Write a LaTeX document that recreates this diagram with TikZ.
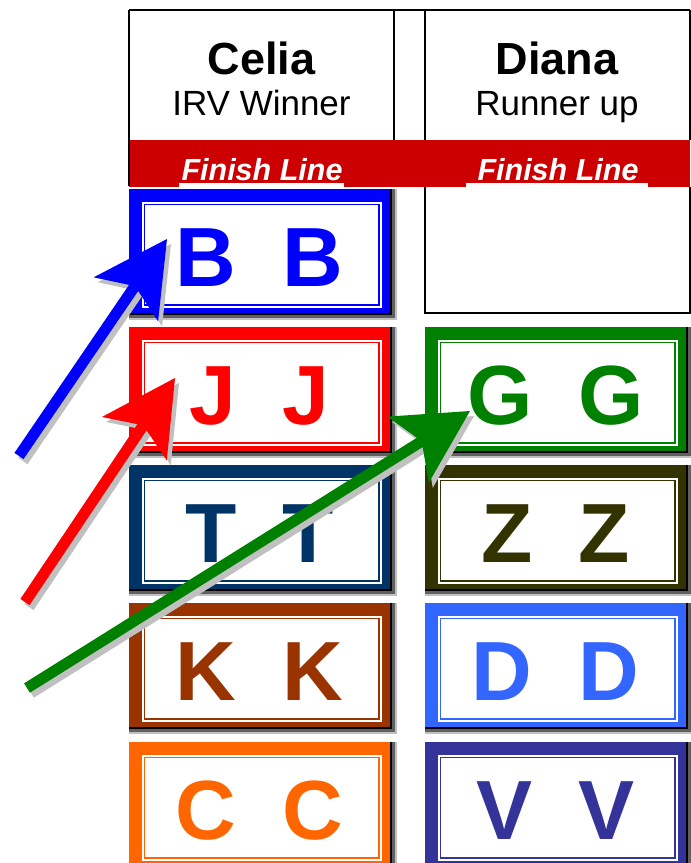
\documentclass[tikz,border=0pt]{standalone}
\usepackage{fontspec}
\setmainfont{Liberation Sans}
\usepackage{tikz}
\usetikzlibrary{calc,arrows.meta}

\definecolor{bandred}{HTML}{CC0000}
\definecolor{tileblue}{HTML}{0000FF}
\definecolor{tilered}{HTML}{FF0000}
\definecolor{tilenavy}{HTML}{003366}
\definecolor{tilebrown}{HTML}{993300}
\definecolor{tileorange}{HTML}{FF6600}
\definecolor{tilegreen}{HTML}{008000}
\definecolor{tileolive}{HTML}{333300}
\definecolor{tilesky}{HTML}{3366FF}
\definecolor{tileindigo}{HTML}{333399}
\definecolor{shadedark}{HTML}{606060}
\definecolor{shadelight}{HTML}{C0C0C0}

\tikzset{
  frame/.style={line width=1.7pt, black},
  headname/.style={anchor=base, inner sep=0pt, font=\bfseries\fontsize{45}{45}\selectfont},
  headrole/.style={anchor=base, inner sep=0pt, font=\fontsize{35}{35}\selectfont},
  finish/.style={anchor=base, inner sep=0pt, text=white, font=\bfseries\itshape\fontsize{30.5}{30.5}\selectfont},
  tile/.style={fill=#1, anchor=north west, inner sep=0pt, minimum width=261pt, minimum height=124pt},
  tileletter/.style={text=#1, anchor=base, inner sep=0pt, font=\bfseries\fontsize{84}{84}\selectfont},
  arrowshaft/.style={draw=#1, line width=11pt, -{Stealth[length=73pt, width=78pt, inset=16pt, line width=0pt]}}
}

\begin{document}
\begin{tikzpicture}[x=1pt, y=-1pt]
  \useasboundingbox (0,0) rectangle (691,863);
  \clip (0,0) rectangle (691,863);

  % Header cells and finish band
  \fill[bandred] (129,140) rectangle (690,186.7);
  \draw[frame] (129,10) -- (690,10);
  \draw[frame] (129,10) -- (129,186);
  \draw[frame] (394,10) -- (394,140);
  \draw[frame] (425,10) -- (425,140);
  \draw[frame] (690,10) -- (690,140);
  \draw[frame] (425,186.7) -- (425,313.3) -- (690,313.3) -- (690,186.7);
  \fill[white] (179.3,182.7) rectangle (344,186.7);
  \fill[white] (466,182.7) rectangle (647.7,186.7);

  \node[headname] (celia) at (261.5,74) {Celia};
  \node[headrole] (celiarole) at (261.5,115) {IRV Winner};
  \node[headname] (diana) at (557,74) {Diana};
  \node[headrole] (dianarole) at (557,115) {Runner up};
  \node[finish] (finishleft) at (262,180) {Finish Line};
  \node[finish] (finishright) at (558,180) {Finish Line};

  % Ballot tiles
  \foreach \nm/\x/\y/\col/\ltr in {tb/129/189/tileblue/B, tj/129/327/tilered/J, tt/129/465/tilenavy/T,
      tk/129/603/tilebrown/K, tc/129/742/tileorange/C, tg/425/327/tilegreen/G,
      tz/425/465/tileolive/Z, td/425/603/tilesky/D, tv/425/742/tileindigo/V} {
    \fill[shadelight] (\x,\y) rectangle ++(268.3,131.3);
    \fill[shadedark] (\x,\y) rectangle ++(266,128.5);
    \fill[black] (\x,\y) rectangle ++(262.7,125.7);
    \node[tile=\col] (\nm) at (\x,\y) {};
    \fill[white] ($(\nm.north west)+(12.5,12.5)$) rectangle ($(\nm.south east)+(-8.3,-5.6)$);
    \draw[\col, line width=1.8pt] ($(\nm.north west)+(15.5,15.5)$) rectangle ($(\nm.south east)+(-11.3,-8.6)$);
    \node[tileletter=\col] (\nm-l) at ($(\nm.north)+(0,97)$) {\ltr~~\ltr};
  }

  % Transfer arrows
  \coordinate (bluetail) at (19,456);
  \coordinate (bluetip) at (167,239);
  \coordinate (redtail) at (25,602);
  \coordinate (redtip) at (175,378);
  \coordinate (greentail) at (27,688);
  \coordinate (greentip) at (470,411);

  \draw[arrowshaft=shadelight] ([shift={(4,5)}]bluetail) -- ([shift={(4,5)}]bluetip);
  \draw[arrowshaft=tileblue] (bluetail) -- (bluetip);
  \draw[arrowshaft=shadelight] ([shift={(4,5)}]redtail) -- ([shift={(4,5)}]redtip);
  \draw[arrowshaft=tilered] (redtail) -- (redtip);
  \draw[arrowshaft=shadelight] ([shift={(4,5)}]greentail) -- ([shift={(4,5)}]greentip);
  \draw[arrowshaft=tilegreen] (greentail) -- (greentip);
\end{tikzpicture}
\end{document}
